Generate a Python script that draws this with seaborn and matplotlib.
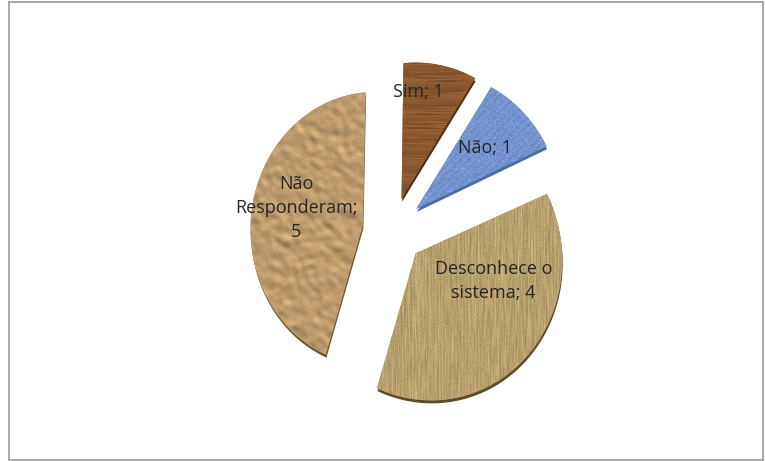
import numpy as np
import matplotlib
matplotlib.use("Agg")
import matplotlib.pyplot as plt
import matplotlib.transforms as mtransforms
from matplotlib.path import Path
from matplotlib.patches import Rectangle, PathPatch
import seaborn as sns

# Survey answers
categories = ["Sim", "Não", "Desconhece o sistema", "Não Responderam"]
counts = [1, 1, 4, 5]
slice_labels = ["Sim; 1", "Não; 1", "Desconhece o\nsistema; 4", "Não\nResponderam;\n5"]

# Slice styling
base_colors = ["#8a5830", "#7594cf", "#b8a16f", "#bd9a6d"]
rim_colors = ["#4e2e12", "#4d6aa3", "#5e4b28", "#70532f"]
explode = [0.24, 0.24, 0.24, 0.24]
# label placement inside each slice: distance from the slice tip (pie radii)
# and clockwise turn (degrees) away from the slice bisector
label_radius = [0.78, 0.65, 0.58, 0.59]
label_turn = [-7.7, 0.8, -24.2, 4.1]

# Tilted-disc view: maps pie units (x right, y up) to canvas pixels
VIEW = np.array([
    [91.686, 11.122, 392.415],
    [-18.739, -133.834, 230.515],
    [-0.092019, 0.022814, 1.0],
])

W, Hpx = 765, 461

sns.set_theme(style="white")
plt.rcParams["font.family"] = ["Open Sans", "DejaVu Sans"]


class Projective(mtransforms.Transform):
    input_dims = output_dims = 2
    is_separable = False
    has_inverse = False

    def __init__(self, matrix):
        super().__init__()
        self.matrix = np.asarray(matrix, float)

    def transform_non_affine(self, values):
        v = np.atleast_2d(np.asarray(values, float))
        h = np.column_stack([v, np.ones(len(v))]) @ self.matrix.T
        return h[:, :2] / h[:, 2:3]

    def transform_path_non_affine(self, path):
        pts = []
        for seg, code in path.iter_bezier():
            if seg.degree <= 0:
                pts.append(seg(np.array([0.0])))
            elif seg.degree == 1:
                pts.append(seg(np.array([1.0])))
            else:
                pts.append(seg(np.linspace(0, 1, 24)[1:]))
        verts = np.concatenate(pts)
        return Path(self.transform_non_affine(verts), closed=True)


def smooth(a, k, axes=(0, 1), passes=3):
    ker = np.ones(k) / k
    for _ in range(passes):
        for ax_ in axes:
            a = np.apply_along_axis(lambda r: np.convolve(r, ker, mode="same"), ax_, a)
    return a


def texture(kind, color, shape, rng):
    h, w = shape
    base = np.array(matplotlib.colors.to_rgb(color))
    yy, xx = np.mgrid[0:h, 0:w]
    if kind == "wood":
        grain = smooth(rng.normal(size=(h, w)), 25, axes=(1,), passes=2)
        grain = grain / (np.abs(grain).std() + 1e-9)
        streak = np.sin(yy / 2.6 + 0.6 * grain)
        f = 1 + 0.07 * streak + 0.03 * grain + 0.02 * rng.normal(size=(h, w))
    elif kind == "denim":
        n = rng.normal(size=(h, w))
        f = 1 + 0.05 * n + 0.03 * np.sin((xx + yy) / 1.3)
    elif kind == "burlap":
        n = rng.normal(size=(h, w))
        cols = smooth(rng.normal(size=(h, w)), 15, axes=(0,), passes=2)
        cols = cols / (cols.std() + 1e-9)
        f = 1 + 0.03 * n + 0.045 * cols + 0.03 * np.sin(xx * 1.9)
    else:  # crumpled paper
        n1 = smooth(rng.normal(size=(h, w)), 5)
        gy, gx = np.gradient(n1)
        shade = gx * 0.5 - gy * 1.0
        f = 1 + 0.16 * shade / (np.abs(shade).max() + 1e-9) * 1.6 + 0.02 * rng.normal(size=(h, w))
    return np.clip(base[None, None, :] * f[..., None], 0, 1)


fig = plt.figure(figsize=(W / 100, Hpx / 100), dpi=100)
ax = fig.add_axes([0, 0, 1, 1])

wedges, _ = ax.pie(
    counts,
    explode=explode,
    startangle=90,
    counterclock=False,
    colors=base_colors,
    wedgeprops=dict(linewidth=0),
)

view = Projective(VIEW)
to_canvas = view + ax.transData

rng = np.random.default_rng(7)
kinds = ["wood", "denim", "burlap", "paper"]
for wdg, rim, kind, col, lab, lr, lt in zip(wedges, rim_colors, kinds, base_colors,
                                            slice_labels, label_radius, label_turn):
    # thin darker rim underneath to suggest the slice thickness
    ax.add_patch(PathPatch(
        wdg.get_path(), facecolor=rim, edgecolor="none", zorder=0.5,
        transform=view + mtransforms.Affine2D().translate(0.6, 3.0) + ax.transData))
    wdg.set_transform(to_canvas)
    wdg.set_zorder(1)
    ext = view.transform_path_non_affine(wdg.get_path()).get_extents()
    x0, y0, x1, y1 = ext.x0 - 2, ext.y0 - 2, ext.x1 + 2, ext.y1 + 2
    tex = texture(kind, col, (int(y1 - y0) + 1, int(x1 - x0) + 1), rng)
    im = ax.imshow(tex, extent=(x0, x1, y1, y0), origin="upper",
                   interpolation="bilinear", zorder=1.5, aspect="auto")
    im.set_clip_path(wdg)

    # data label inside the slice
    mid = np.radians((wdg.theta1 + wdg.theta2) / 2 - lt)
    cx, cy = wdg.center
    ax.text(cx + lr * wdg.r * np.cos(mid), cy + lr * wdg.r * np.sin(mid), lab,
            transform=to_canvas, ha="center", va="center", fontsize=13,
            color="#262626", linespacing=1.45, zorder=3)

ax.set_aspect("auto")
ax.set_xlim(0, W)
ax.set_ylim(Hpx, 0)
ax.axis("off")

# chart border
ax.add_patch(Rectangle((9.5, 2.5), W - 11, Hpx - 4, fill=False,
                       edgecolor="#9a9a9a", linewidth=1.2, zorder=4))

fig.savefig("out.png", dpi=100)
